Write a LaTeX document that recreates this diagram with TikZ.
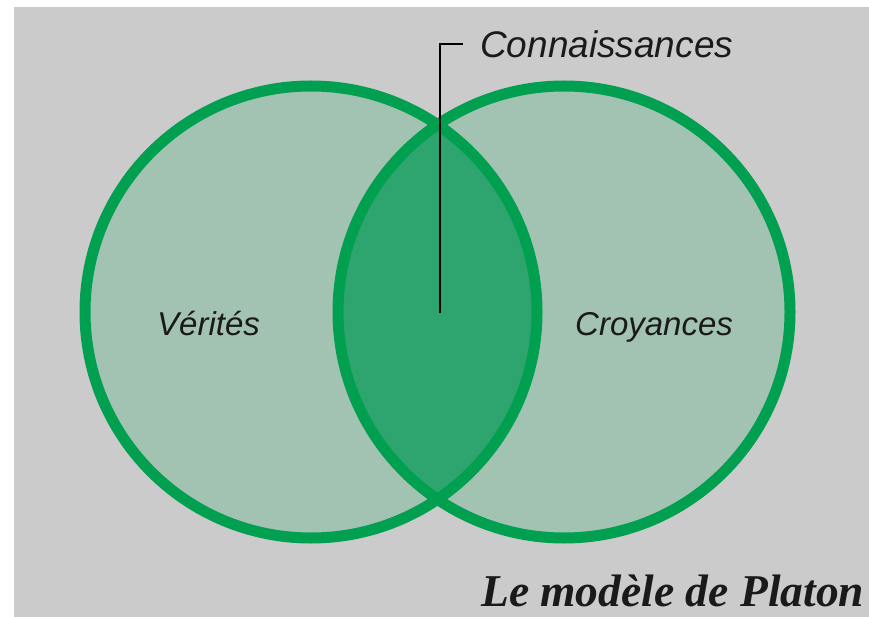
\documentclass[tikz,border=0pt]{standalone}
\usepackage{fontspec}
\setmainfont{Liberation Serif}
\newfontfamily\labelfont{Liberation Sans}
\definecolor{bggray}{HTML}{CBCBCB}
\definecolor{lightgreen}{HTML}{A3C3B2}
\definecolor{midgreen}{HTML}{2EA56E}
\definecolor{rimgreen}{HTML}{00A050}
\definecolor{inkc}{HTML}{1A1A1A}
\tikzset{
  rim/.style={draw=rimgreen, line width=11pt},
  setlabel/.style={font=\labelfont\itshape\fontsize{33}{36}\selectfont, text=inkc, inner sep=0pt},
  leader/.style={draw=black, line width=2.8pt},
}
\begin{document}
\begin{tikzpicture}[x=1pt,y=-1pt]
\useasboundingbox (0,0) rectangle (869,617);
\fill[white] (0,0) rectangle (869,617);
\begin{scope}
\clip (14,7) rectangle (869,617);
\fill[bggray] (14,7) rectangle (869,617);
% circles fill
\fill[lightgreen] (311,312) circle[radius=226];
\fill[lightgreen] (564,312) circle[radius=226];
\begin{scope}
\clip (311,312) circle[radius=226];
\fill[midgreen] (564,312) circle[radius=226];
\end{scope}
\draw[rim] (311,312) circle[radius=226];
\draw[rim] (564,312) circle[radius=226];
% labels
\node[setlabel, anchor=base west] (ver) at (157,335) {Vérités};
\node[setlabel, anchor=base west] (cro) at (575,335) {Croyances};
\node[font=\labelfont\itshape\fontsize{37}{40}\selectfont, text=inkc, inner sep=0pt, anchor=base west] (con) at (480,58) {Connaissances};
\coordinate (lineend) at (440,313);
\coordinate (corner) at (440,44);
\coordinate (tick) at (463,44);
\draw[leader] (lineend) -- (corner) -- (tick);
\node[font=\bfseries\itshape\fontsize{45.5}{48}\selectfont, text=inkc, inner sep=0pt, anchor=base west] (title) at (481,606) {Le modèle de Platon};
\end{scope}
\end{tikzpicture}
\end{document}
